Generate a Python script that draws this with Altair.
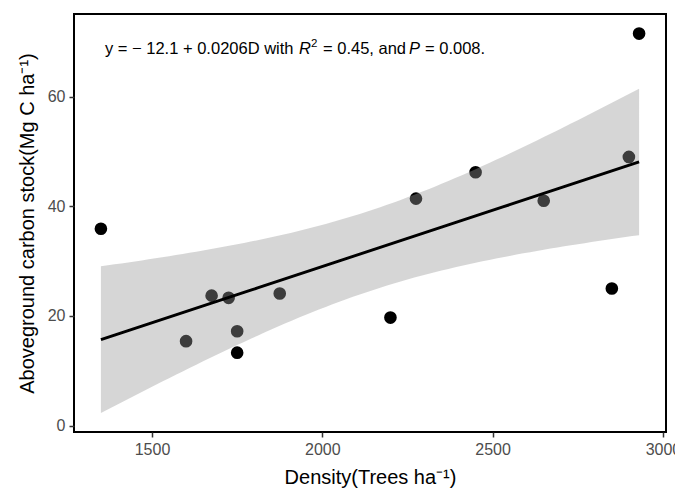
import altair as alt
import numpy as np
import pandas as pd

# Observed plots
density = [1350, 1600, 1675, 1725, 1750, 1750, 1875, 2200, 2275, 2450, 2650, 2850, 2900, 2930]
carbon = [35.9, 15.4, 23.7, 23.3, 17.2, 13.3, 24.1, 19.7, 41.4, 46.2, 41.0, 25.0, 49.0, 71.5]

x_ticks = [1500, 2000, 2500, 3000]
y_ticks = [0, 20, 40, 60]

# Annotation pieces (text, italic?, superscript?)
ann_text = ["y = \u2212 12.1 + 0.0206D with", "R", "2", "= 0.45, and", "P", "= 0.008."]
ann_italic = [False, True, False, False, True, False]
ann_super = [False, False, True, False, False, False]
ann_offset = [0, 194, 206, 218, 304, 320]
ann_x = 1362
ann_y = 67.8

# Linear fit with 95% confidence band (derived from the data)
x = np.array(density, dtype=float)
y = np.array(carbon, dtype=float)
n = len(x)
b1, b0 = np.polyfit(x, y, 1)
resid = y - (b0 + b1 * x)
s = np.sqrt(np.sum(resid ** 2) / (n - 2))
t_crit = 2.1788  # t(0.975, df=12)
grid = np.linspace(x.min(), x.max(), 80)
fit = b0 + b1 * grid
se = s * np.sqrt(1.0 / n + (grid - x.mean()) ** 2 / np.sum((x - x.mean()) ** 2))
band = pd.DataFrame({"d": grid, "fit": fit, "lo": fit - t_crit * se, "hi": fit + t_crit * se})

pts = pd.DataFrame({"d": density, "c": carbon})

xs = alt.Scale(domain=[1271, 3009], nice=False, zero=False)
ys = alt.Scale(domain=[-1.17, 75.07], nice=False, zero=False)

xaxis = alt.Axis(values=x_ticks, title="Density(Trees ha\u207b\u00b9)", grid=False,
                 labelFlush=False, labelFontSize=16, labelColor="#4D4D4D",
                 titleFontSize=20, titleFontWeight="normal", titleColor="black",
                 titlePadding=10, labelPadding=4, tickSize=5, tickWidth=1.5,
                 tickColor="#333333", domain=False, format="d")
yaxis = alt.Axis(values=y_ticks, title="Aboveground carbon stock(Mg C ha\u207b\u00b9)", grid=False,
                 labelFlush=False, labelFontSize=16, labelColor="#4D4D4D",
                 titleFontSize=20, titleFontWeight="normal", titleColor="black",
                 titlePadding=10, labelPadding=4, tickSize=5, tickWidth=1.5,
                 tickColor="#333333", domain=False)

points = alt.Chart(pts).mark_circle(size=160, color="black", opacity=1).encode(
    x=alt.X("d:Q", scale=xs, axis=xaxis),
    y=alt.Y("c:Q", scale=ys, axis=yaxis),
)

ribbon = alt.Chart(band).mark_area(color="#999999", opacity=0.4).encode(
    x=alt.X("d:Q", scale=xs),
    y=alt.Y("lo:Q", scale=ys),
    y2="hi:Q",
)

line = alt.Chart(band).mark_line(color="black", strokeWidth=3).encode(
    x=alt.X("d:Q", scale=xs),
    y=alt.Y("fit:Q", scale=ys),
)

layers = [points, ribbon, line]
for t, it, sup, off in zip(ann_text, ann_italic, ann_super, ann_offset):
    df = pd.DataFrame({"d": [ann_x], "c": [ann_y], "t": [t]})
    mk = alt.Chart(df).mark_text(
        align="left", baseline="alphabetic",
        fontSize=11.5 if sup else 16.5,
        fontStyle="italic" if it else "normal",
        dx=off, dy=-7 if sup else 0,
        font="Liberation Sans", color="black",
    ).encode(
        x=alt.X("d:Q", scale=xs),
        y=alt.Y("c:Q", scale=ys),
        text="t:N",
    )
    layers.append(mk)

chart = alt.layer(*layers).properties(
    width=592, height=418,
    autosize=alt.AutoSizeParams(type="none"),
    padding={"left": 74, "top": 14, "right": 9, "bottom": 56},
    background="white",
).configure(font="Liberation Sans").configure_view(stroke="black", strokeWidth=2)

chart.save("out.html", embed_options={"renderer": "svg", "actions": False})
